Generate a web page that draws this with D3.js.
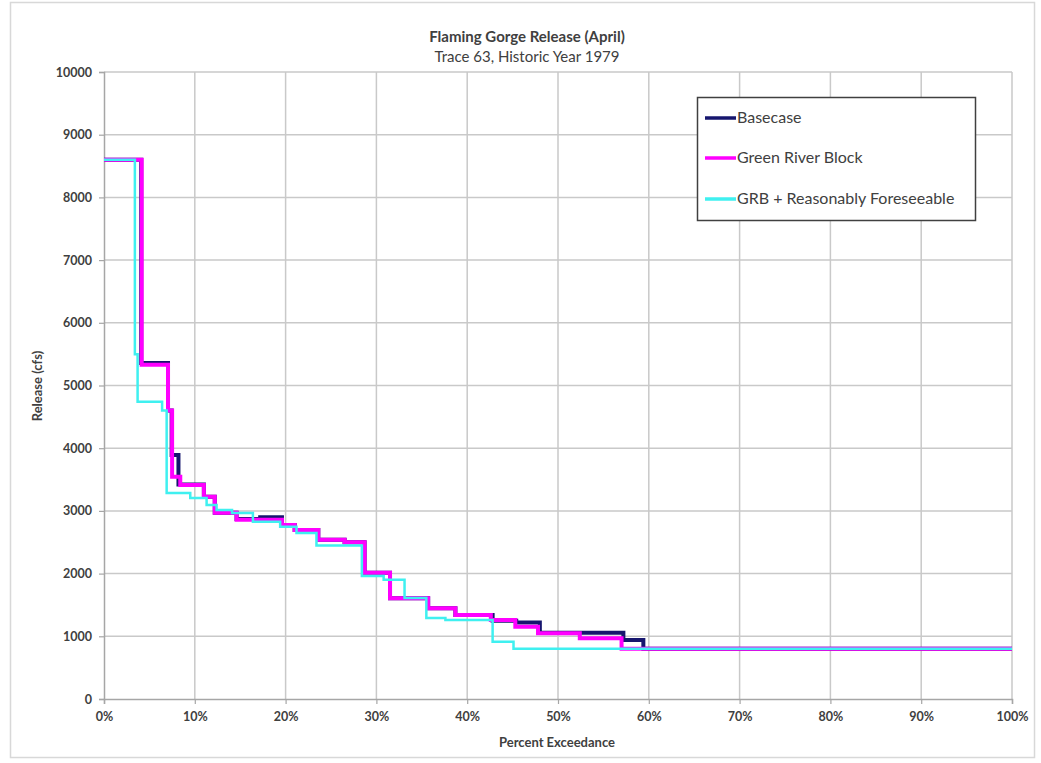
<!DOCTYPE html>
<html>
<head>
<meta charset="utf-8">
<script src="https://cdn.jsdelivr.net/npm/d3@7"></script>
<style>
  html, body { margin: 0; padding: 0; background: #fff; }
  svg { display: block; font-family: Lato, "Open Sans", sans-serif; }
</style>
</head>
<body>
<svg id="chart" width="1041" height="763"></svg>
<script>
// Percent exceedance (x) and release in cfs (y); each value holds until the next point.
const basecase = [
  [0, 8600], [4.1, 5360], [7.05, 4600], [7.45, 3890], [8.2, 3420], [11.0, 3227],
  [12.2, 2970], [14.6, 2870], [17.2, 2900], [19.6, 2775], [21.0, 2695], [23.6, 2540],
  [26.5, 2500], [28.7, 2015], [31.5, 1606], [35.7, 1446], [38.7, 1340], [42.8, 1249],
  [45.4, 1220], [48.0, 1058], [57.2, 941], [59.4, 800], [100, 800]
];
const greenRiverBlock = [
  [0, 8600], [4.15, 5330], [7.05, 4600], [7.5, 3545], [8.4, 3413], [11.0, 3227],
  [12.2, 2970], [14.6, 2860], [19.6, 2775], [21.0, 2695], [23.6, 2540], [26.5, 2500],
  [28.7, 2015], [31.5, 1606], [35.7, 1446], [38.7, 1340], [42.6, 1260], [45.3, 1153],
  [47.8, 1048], [52.4, 968], [57.0, 800], [100, 800]
];
const grbForeseeable = [
  [0, 8600], [3.4, 5500], [3.7, 4740], [6.4, 4600], [6.9, 3285], [9.5, 3205],
  [11.3, 3094], [12.4, 3014], [14.1, 2966], [16.4, 2828], [19.4, 2748], [21.2, 2647],
  [23.4, 2450], [28.4, 1960], [30.8, 1900], [33.1, 1610], [35.5, 1290], [37.6, 1260],
  [42.8, 914], [45.1, 800], [100, 800]
];

const seriesNames = ["Basecase", "Green River Block", "GRB + Reasonably Foreseeable"];
const seriesData = [basecase, greenRiverBlock, grbForeseeable];
const seriesColors = ["#16166e", "#ff00ff", "#3ff0f0"];
const seriesWidths = [4, 4, 2.5];

const xTicks = d3.range(0, 101, 10);
const yTicks = d3.range(0, 10001, 1000);

const titleText = "Flaming Gorge Release (April)";
const subtitleText = "Trace 63, Historic Year 1979";
const xTitle = "Percent Exceedance";
const yTitle = "Release (cfs)";

const svg = d3.select("#chart");

// Light outer frame of the chart area
svg.append("rect")
  .attr("x", 10.5).attr("y", 2.5).attr("width", 1024).attr("height", 755)
  .attr("fill", "none").attr("stroke", "#d8d8d8").attr("stroke-width", 1.5);

const x = d3.scaleLinear().domain([0, 100]).range([104, 1012]);
const y = d3.scaleLinear().domain([0, 10000]).range([699, 72]);

// Gridlines
const grid = svg.append("g");
grid.selectAll("line.h").data(yTicks.filter(d => d > 0)).join("line")
  .attr("x1", x(0)).attr("x2", x(100))
  .attr("y1", d => y(d)).attr("y2", d => y(d))
  .attr("stroke", "#c9c9c9").attr("stroke-width", 1.5);
grid.selectAll("line.v").data(xTicks.filter(d => d > 0)).join("line")
  .attr("x1", d => x(d)).attr("x2", d => x(d))
  .attr("y1", y(0)).attr("y2", y(10000))
  .attr("stroke", "#c9c9c9").attr("stroke-width", 1.5);

// Axes
const yAxis = svg.append("g")
  .attr("transform", `translate(${x(0)},0)`)
  .call(d3.axisLeft(y).tickValues(yTicks).tickSize(5).tickPadding(7).tickFormat(d3.format("d")));
const xAxis = svg.append("g")
  .attr("transform", `translate(0,${y(0)})`)
  .call(d3.axisBottom(x).tickValues(xTicks).tickSize(5).tickPadding(8).tickFormat(d => d + "%"));

[yAxis, xAxis].forEach(a => {
  a.select(".domain").attr("stroke", "#a6a6a6").attr("stroke-width", 1.5);
  a.selectAll(".tick line").attr("stroke", "#a6a6a6").attr("stroke-width", 1.2);
  a.selectAll(".tick text")
    .attr("fill", "#404040")
    .style("font-size", "12.5px").style("font-weight", "bold")
    .style("font-family", "Lato, sans-serif");
});

// Step lines
const line = d3.line()
  .x(d => x(d[0]))
  .y(d => y(d[1]))
  .curve(d3.curveStepAfter);

svg.append("g").selectAll("path").data(seriesData).join("path")
  .attr("d", d => line(d))
  .attr("fill", "none")
  .attr("stroke", (d, i) => seriesColors[i])
  .attr("stroke-width", (d, i) => seriesWidths[i])
  .attr("stroke-linejoin", "miter");

// Titles
svg.append("text")
  .attr("x", 527).attr("y", 42).attr("text-anchor", "middle")
  .attr("fill", "#404040").style("font-size", "15px").style("font-weight", "bold")
  .text(titleText);
svg.append("text")
  .attr("x", 527).attr("y", 62).attr("text-anchor", "middle")
  .attr("fill", "#404040").style("font-size", "15px")
  .text(subtitleText);

svg.append("text")
  .attr("x", 557).attr("y", 747).attr("text-anchor", "middle")
  .attr("fill", "#404040").style("font-size", "13px").style("font-weight", "bold")
  .text(xTitle);
svg.append("text")
  .attr("transform", `translate(42,386) rotate(-90)`)
  .attr("text-anchor", "middle")
  .attr("fill", "#404040").style("font-size", "13px").style("font-weight", "bold")
  .text(yTitle);

// Legend
const legend = svg.append("g");
legend.append("rect")
  .attr("x", 697.5).attr("y", 97.5).attr("width", 278).attr("height", 123)
  .attr("fill", "#fff").attr("stroke", "#404040").attr("stroke-width", 1.5);
const legendY = [118, 158, 199];
seriesNames.forEach((name, i) => {
  legend.append("line")
    .attr("x1", 705).attr("x2", 736)
    .attr("y1", legendY[i]).attr("y2", legendY[i])
    .attr("stroke", seriesColors[i]).attr("stroke-width", 3.5);
  legend.append("text")
    .attr("x", 737).attr("y", legendY[i] + 5)
    .attr("fill", "#404040").style("font-size", "16px")
    .text(name);
});
</script>
</body>
</html>
